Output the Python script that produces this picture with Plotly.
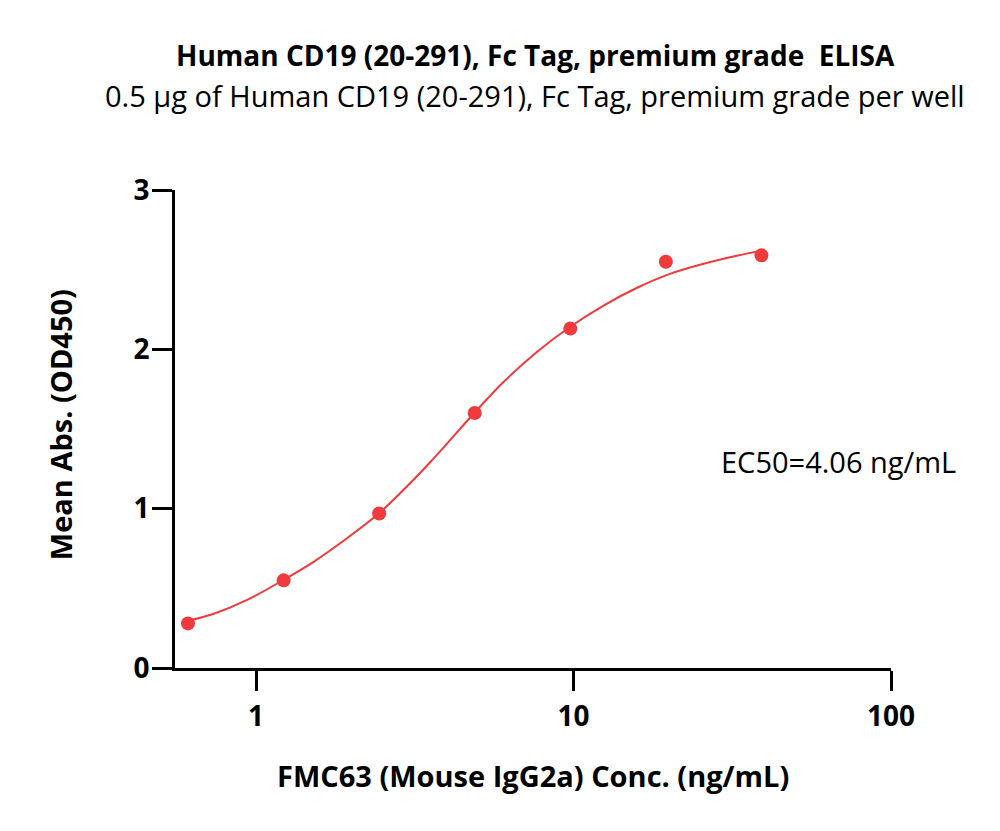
import plotly.graph_objects as go

# Measured data points
conc = [0.610, 1.221, 2.441, 4.883, 9.766, 19.53, 39.06]
od450 = [0.28, 0.55, 0.97, 1.60, 2.13, 2.55, 2.59]

# Fitted curve
curve_x = [0.606, 0.732, 0.937, 1.217, 1.513, 1.937, 2.444, 2.847, 3.54, 4.90,
           6.016, 7.697, 9.784, 12.43, 15.92, 20.23, 25.71, 32.91, 38.9]
curve_y = [0.295, 0.339, 0.427, 0.552, 0.665, 0.816, 0.973, 1.098, 1.293, 1.607,
           1.795, 1.986, 2.143, 2.275, 2.388, 2.475, 2.537, 2.589, 2.618]

x_tickvals = [1, 10, 100]
x_ticktext = ["1", "10", "100"]
y_tickvals = [0, 1, 2, 3]

title = "Human CD19 (20-291), Fc Tag, premium grade  ELISA"
subtitle = "0.5 µg of Human CD19 (20-291), Fc Tag, premium grade per well"
xtitle = "FMC63 (Mouse IgG2a) Conc. (ng/mL)"
ytitle = "Mean Abs. (OD450)"
ec50_text = "EC50=4.06 ng/mL"

RED = "#F03A3C"
FONT = "Open Sans"

fig = go.Figure()
fig.add_trace(go.Scatter(x=curve_x, y=curve_y, mode="lines",
                         line=dict(color=RED, width=2, shape="spline", smoothing=1),
                         hoverinfo="skip", showlegend=False))
fig.add_trace(go.Scatter(x=conc, y=od450, mode="markers",
                         marker=dict(color=RED, size=14, line=dict(width=0)),
                         showlegend=False))

fig.update_layout(
    width=984, height=815,
    margin=dict(l=167, r=101, t=182, b=155),
    paper_bgcolor="white", plot_bgcolor="white",
    font=dict(family=FONT, color="black"),
    showlegend=False,
)
fig.update_xaxes(type="log", range=[-0.2555, 2.0], showgrid=False, zeroline=False,
                 showline=True, linewidth=3, linecolor="black",
                 ticks="outside", ticklen=20, tickwidth=3, tickcolor="black",
                 tickvals=x_tickvals, ticktext=x_ticktext,
                 tickfont=dict(family=FONT, size=28, color="black", weight="bold"),
                 ticklabelstandoff=1)
fig.update_yaxes(range=[0, 3], showgrid=False, zeroline=False,
                 showline=True, linewidth=3, linecolor="black",
                 ticks="outside", ticklen=20, tickwidth=3, tickcolor="black",
                 tickvals=y_tickvals,
                 tickfont=dict(family=FONT, size=28, color="black", weight="bold"),
                 ticklabelstandoff=-3)

fig.add_annotation(text=title, xref="paper", yref="paper", x=0.503, y=1.2824,
                   showarrow=False, xanchor="center", yanchor="middle",
                   font=dict(family=FONT, size=28, color="black", weight="bold"))
fig.add_annotation(text=subtitle, xref="paper", yref="paper", x=0.503, y=1.1987,
                   showarrow=False, xanchor="center", yanchor="middle",
                   font=dict(family=FONT, size=29, color="black"))
fig.add_annotation(text=xtitle, xref="paper", yref="paper", x=0.5, y=-0.224,
                   showarrow=False, xanchor="center", yanchor="middle",
                   font=dict(family=FONT, size=29, color="black", weight="bold"))
fig.add_annotation(text=ytitle, xref="paper", yref="paper", x=-0.1606, y=0.508,
                   showarrow=False, xanchor="center", yanchor="middle", textangle=-90,
                   font=dict(family=FONT, size=29, color="black", weight="bold"))
fig.add_annotation(text=ec50_text, xref="paper", yref="paper", x=0.926, y=0.431,
                   showarrow=False, xanchor="center", yanchor="middle",
                   font=dict(family=FONT, size=29, color="black"))

fig.write_html("out.html")
